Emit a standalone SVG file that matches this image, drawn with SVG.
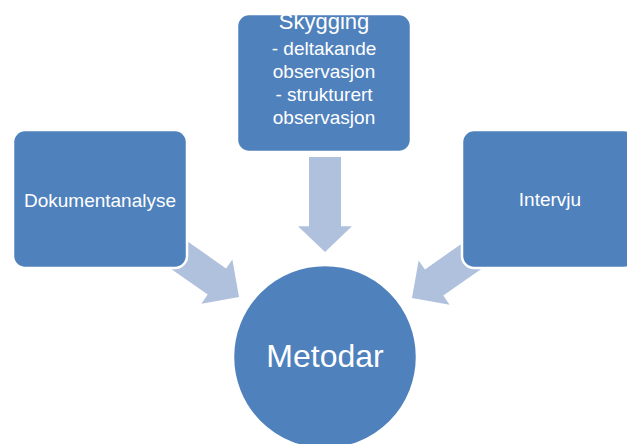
<svg xmlns="http://www.w3.org/2000/svg" width="627" height="444" viewBox="0 0 627 444">
<defs>
<style>
.node{fill:#4F81BD;stroke:#FFFFFF;stroke-width:2.5}
.arrow{fill:#B0C1DD}
text{font-family:"Liberation Sans",Arial,sans-serif;fill:#FFFFFF;text-anchor:middle}
</style>
<polygon id="arr" points="-16,-100 16,-100 16,-27 27,-27 0,0 -27,-27 -16,-27 -16,-100"/>
</defs>
<rect width="627" height="444" fill="#FFFFFF"/>
<g id="connectors">
<use href="#arr" class="arrow" transform="translate(325,252) scale(1,0.95)"/>
<use href="#arr" class="arrow" transform="translate(239,297) rotate(-55)"/>
<use href="#arr" class="arrow" transform="translate(412,298) rotate(55)"/>
</g>
<g id="skygging">
<rect class="node" x="237" y="14" width="174" height="138" rx="12"/>
<text x="324" y="29" font-size="22">Skygging</text>
<text x="324" y="55" font-size="19">- deltakande</text>
<text x="324" y="78" font-size="19">observasjon</text>
<text x="324" y="101" font-size="19">- strukturert</text>
<text x="324" y="124" font-size="19">observasjon</text>
</g>
<g id="dokumentanalyse">
<rect class="node" x="13" y="130" width="174" height="138" rx="12"/>
<text x="100" y="207" font-size="19">Dokumentanalyse</text>
</g>
<g id="intervju">
<rect class="node" x="462" y="130" width="174" height="138" rx="12"/>
<text x="550" y="206" font-size="19">Intervju</text>
</g>
<g id="metodar">
<circle class="node" cx="325" cy="357" r="92"/>
<text x="325" y="367" font-size="32">Metodar</text>
</g>
</svg>
